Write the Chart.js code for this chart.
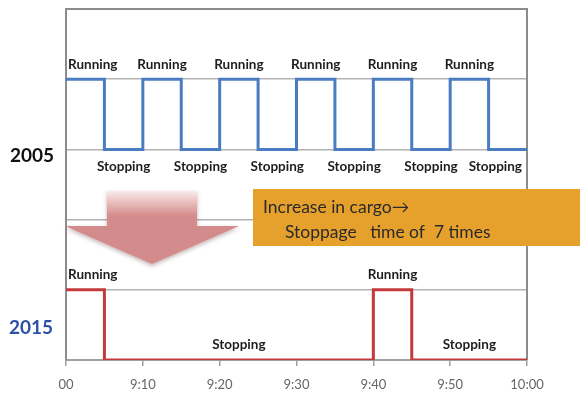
<!DOCTYPE html>
<html>
<head>
<meta charset="utf-8">
<script src="https://cdn.jsdelivr.net/npm/chart.js@4"></script>
<style>
  html, body { margin: 0; background: #fff; }
  #wrap { width: 580px; height: 396px; }
</style>
</head>
<body>
<div id="wrap"><canvas id="chart"></canvas></div>
<script>
// x axis: minutes after 9:00
const tickMinutes = [0, 10, 20, 30, 40, 50, 60];
const tickLabels = ['00', '9:10', '9:20', '9:30', '9:40', '9:50', '10:00'];

// 2005: change points (minutes) and level (4 = running, 3 = stopping)
const minutes2005 = [0, 5, 10, 15, 20, 25, 30, 35, 40, 45, 50, 55, 60];
const level2005 = [4, 3, 4, 3, 4, 3, 4, 3, 4, 3, 4, 3, 3];
const states2005 = ['Running', 'Stopping', 'Running', 'Stopping', 'Running', 'Stopping',
                    'Running', 'Stopping', 'Running', 'Stopping', 'Running', 'Stopping'];

// 2015: level 1 = running, 0 = stopping
const minutes2015 = [0, 5, 40, 45, 60];
const level2015 = [1, 0, 1, 0, 0];
const states2015 = ['Running', 'Stopping', 'Running', 'Stopping'];

const yearLabels = ['2005', '2015'];
const noteLines = ['Increase in cargo\u2192', 'Stoppage   time of  7 times'];

function toPoints(xs, ys) {
    return xs.map((m, i) => ({ x: m, y: ys[i] }));
}

// Running / Stopping text over each segment
const stateLabels = {
    id: 'stateLabels',
    afterDatasetsDraw(chart) {
        const { ctx, chartArea, scales: { x, y } } = chart;
        ctx.save();
        ctx.font = 'bold 13.5px Lato';
        ctx.fillStyle = '#1e1e1e';
        ctx.textBaseline = 'middle';
        ctx.textAlign = 'left';
        chart.data.datasets.forEach(ds => {
            ds.states.forEach((s, i) => {
                const x0 = x.getPixelForValue(ds.data[i].x);
                const x1 = x.getPixelForValue(ds.data[i + 1].x);
                const py = y.getPixelForValue(ds.data[i].y);
                const w = ctx.measureText(s).width;
                let left = (x0 + x1) / 2 - w / 2;
                left = Math.max(chartArea.left + 2, Math.min(chartArea.right - 5 - w, left));
                const below = s === 'Stopping' && ds.stopBelow;
                ctx.fillText(s, left, below ? py + 17 : py - 15);
            });
        });
        ctx.restore();
    }
};

// frame, arrow, note box and year labels
const overlay = {
    id: 'overlay',
    beforeDatasetsDraw(chart) {
        const { ctx, chartArea: a } = chart;
        ctx.save();
        ctx.strokeStyle = '#8c8c8c';
        ctx.lineWidth = 2;
        ctx.beginPath();
        ctx.moveTo(a.left, a.bottom);
        ctx.lineTo(a.left, a.top);
        ctx.lineTo(a.right, a.top);
        ctx.lineTo(a.right, a.bottom);
        ctx.stroke();
        ctx.restore();
    },
    afterDraw(chart) {
        const { ctx } = chart;
        ctx.save();

        // down arrow
        const g = ctx.createLinearGradient(0, 190, 0, 216);
        g.addColorStop(0, '#fbeeee');
        g.addColorStop(1, '#d48b8b');
        ctx.shadowColor = 'rgba(90,40,40,0.35)';
        ctx.shadowBlur = 4;
        ctx.shadowOffsetY = 2;
        ctx.fillStyle = g;
        ctx.beginPath();
        ctx.moveTo(107, 191);
        ctx.lineTo(197, 191);
        ctx.lineTo(197, 226);
        ctx.lineTo(239, 226);
        ctx.lineTo(152, 264);
        ctx.lineTo(65, 226);
        ctx.lineTo(107, 226);
        ctx.closePath();
        ctx.fill();
        ctx.shadowColor = 'transparent';

        // note box
        ctx.fillStyle = '#e6a12c';
        ctx.fillRect(253, 189, 330, 57);
        ctx.fillStyle = '#2a2a2a';
        ctx.font = '17.5px Lato';
        ctx.textBaseline = 'alphabetic';
        ctx.fillText(noteLines[0], 263, 213);
        ctx.fillText(noteLines[1], 285, 238);

        // year labels
        ctx.font = 'bold 19px Lato';
        ctx.textBaseline = 'middle';
        ctx.fillStyle = '#111';
        ctx.fillText(yearLabels[0], 10, 156);
        ctx.fillStyle = '#2c50a6';
        ctx.fillText(yearLabels[1], 9, 328);
        ctx.restore();
    }
};

new Chart(document.getElementById('chart'), {
    type: 'line',
    data: {
        datasets: [
            {
                label: '2005',
                data: toPoints(minutes2005, level2005),
                states: states2005,
                stopBelow: true,
                borderColor: '#4a7cc2',
                borderWidth: 3,
                stepped: 'before',
                pointRadius: 0,
                borderJoinStyle: 'miter',
                fill: false
            },
            {
                label: '2015',
                data: toPoints(minutes2015, level2015),
                states: states2015,
                stopBelow: false,
                borderColor: '#c23a3c',
                borderWidth: 3,
                stepped: 'before',
                pointRadius: 0,
                borderJoinStyle: 'miter',
                fill: false
            }
        ]
    },
    options: {
        responsive: true,
        maintainAspectRatio: false,
        animation: false,
        layout: { padding: { left: 66, right: 53, top: 9, bottom: 0 } },
        plugins: {
            legend: { display: false },
            tooltip: { enabled: false }
        },
        scales: {
            x: {
                type: 'linear',
                min: 0,
                max: 60,
                afterBuildTicks: scale => {
                    scale.ticks = tickMinutes.map(v => ({ value: v }));
                },
                afterFit: scale => { scale.height = 36; },
                ticks: {
                    autoSkip: false,
                    maxRotation: 0,
                    padding: 11,
                    color: '#666',
                    font: { family: 'Lato', size: 13 },
                    callback: (v) => tickLabels[tickMinutes.indexOf(v)]
                },
                grid: { drawOnChartArea: false, tickLength: 6, color: '#a0a0a0', lineWidth: 1.5 },
                border: { color: '#a0a0a0', width: 2 }
            },
            y: {
                min: 0,
                max: 5,
                afterFit: scale => { scale.width = 0; },
                ticks: { display: false, stepSize: 1 },
                grid: {
                    drawTicks: false,
                    color: ctx => ctx.tick.value === 5 ? 'rgba(0,0,0,0)' : '#b2b2b2',
                    lineWidth: 1.5
                },
                border: { display: false }
            }
        }
    },
    plugins: [stateLabels, overlay]
});
</script>
</body>
</html>
